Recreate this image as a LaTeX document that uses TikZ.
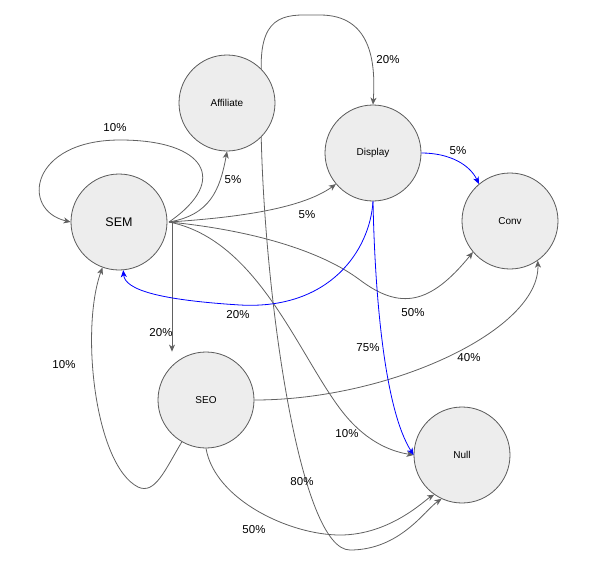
\documentclass[tikz,border=0pt]{standalone}
\usepackage{fontspec}
\setmainfont{Liberation Sans}
\usetikzlibrary{arrows.meta}
\begin{document}
\begin{tikzpicture}[x=1pt,y=-1pt,
  st/.style={circle,draw=black!65,fill=black!7,line width=0.8pt,minimum size=96pt,inner sep=0pt,font=\fontsize{10}{12}\selectfont},
  big/.style={font=\fontsize{12.5}{14}\selectfont},
  e/.style={draw=black!62,line width=0.8pt,-{Stealth[length=7pt,width=6pt,inset=2pt]}},
  b/.style={e,draw=blue},
  lb/.style={font=\fontsize{11.5}{13}\selectfont}]
\useasboundingbox (0,0) rectangle (603,574);
\node[st] (aff) at (227,103) {Affiliate};
\node[st] (dis) at (373,153) {Display};
\node[st] (conv) at (510,221) {Conv};
\node[st,big] (sem) at (119,222) {SEM};
\node[st] (seo) at (206,400) {SEO};
\node[st] (null) at (462,455) {Null};
\coordinate (se) at (169,222);
% edges
\draw[e] (se) .. controls (230,180) and (205,140) .. (120,140) .. controls (30,140) and (20,210) .. (sem.west);
\draw[e] (se) .. controls (210,215) and (220,190) .. (aff.south);
\draw[e] (se) .. controls (230,218) and (300,210) .. (dis.-140);
\draw[e] (se) .. controls (250,230) and (320,250) .. (360,280) .. controls (400,310) and (430,305) .. (conv.-140);
\draw[e] (se) .. controls (260,240) and (300,360) .. (345,415) .. controls (370,445) and (395,452) .. (null.west);
\draw[e] (172,222) -- (seo.north-|172,0);
\draw[e] (seo.-120) .. controls (165,470) and (155,495) .. (138,487) .. controls (95,465) and (80,330) .. (sem.-110);
\draw[e] (seo.east) .. controls (390,400) and (540,330) .. (conv.-55);
\draw[e] (seo.south) .. controls (215,500) and (290,535) .. (340,535) .. controls (390,535) and (425,500) .. (null.-125);
\draw[e] (aff.-45) .. controls (265,300) and (300,550) .. (350,550) .. controls (400,550) and (425,510) .. (null.-115);
\draw[e] (aff.45) .. controls (260,10) and (290,15) .. (320,15) .. controls (370,15) and (376,60) .. (dis.north);
\draw[b] (dis.east) .. controls (450,153) and (470,165) .. (conv.130);
\draw[b] (dis.south) .. controls (370,250) and (330,310) .. (240,305) .. controls (160,300) and (125,290) .. (sem.-85);
\draw[b] (dis.south) .. controls (375,300) and (385,410) .. (null.west);
% labels
\node[lb] (l1) at (115,128) {10\%};
\node[lb] (l2) at (233,180) {5\%};
\node[lb] (l3) at (307,215) {5\%};
\node[lb] (l4) at (413,313) {50\%};
\node[lb] (l5) at (347,434) {10\%};
\node[lb] (l6) at (161,333) {20\%};
\node[lb] (l7) at (64,365) {10\%};
\node[lb] (l8) at (469,358) {40\%};
\node[lb] (l9) at (254,530) {50\%};
\node[lb] (l10) at (302,482) {80\%};
\node[lb] (l11) at (388,60) {20\%};
\node[lb] (l12) at (458,151) {5\%};
\node[lb] (l13) at (238,315) {20\%};
\node[lb] (l14) at (368,348) {75\%};
\end{tikzpicture}
\end{document}
